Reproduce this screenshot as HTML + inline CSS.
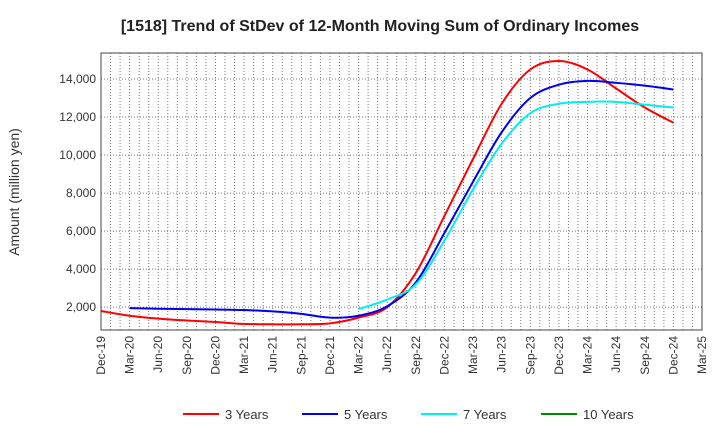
<!DOCTYPE html>
<html><head><meta charset="utf-8"><style>
body{margin:0;background:#fff;font-family:"Liberation Sans",sans-serif}
</style></head><body>
<svg id="chart" width="720" height="440" xmlns="http://www.w3.org/2000/svg" font-family="Liberation Sans, sans-serif">
<text x="380" y="31" text-anchor="middle" font-size="16" font-weight="bold" fill="#222">[1518]  Trend of StDev of 12-Month Moving Sum of Ordinary Incomes</text>
<text transform="translate(19,192) rotate(-90)" text-anchor="middle" font-size="14" fill="#333">Amount (million yen)</text>
<g id="grid"></g><g id="axes"></g><g id="series"></g>
<rect x="101" y="53" width="601" height="277" fill="none" stroke="#444" stroke-width="1"/>
<g id="legend"></g>
</svg>
<script>
const xLabels=["Dec-19","Mar-20","Jun-20","Sep-20","Dec-20","Mar-21","Jun-21","Sep-21","Dec-21","Mar-22","Jun-22","Sep-22","Dec-22","Mar-23","Jun-23","Sep-23","Dec-23","Mar-24","Jun-24","Sep-24","Dec-24","Mar-25"];
const yTicks=[2000,4000,6000,8000,10000,12000,14000];
const yTickLabels=["2,000","4,000","6,000","8,000","10,000","12,000","14,000"];
const seriesNames=["3 Years","5 Years","7 Years","10 Years"];
const seriesColors=["#ff0000","#0000ee","#00eeee","#008800"];
const s3=[1800,1550,1400,1300,1220,1120,1100,1100,1150,1450,2000,3800,6800,9800,12700,14500,14950,14500,13500,12500,11700];
const s5=[null,1950,1920,1900,1880,1850,1780,1650,1450,1550,2050,3300,5900,8600,11200,13000,13700,13900,13800,13650,13450];
const s7=[null,null,null,null,null,null,null,null,null,1900,2400,3200,5500,8200,10600,12200,12700,12800,12800,12650,12500];
const s10=[];
const L=101,R=702,T=53,B=330,yMin=800,yMax=15368;
const xs=i=>L+i*(R-L)/(xLabels.length-1);
const ys=v=>B-(v-yMin)/(yMax-yMin)*(B-T);
const NS="http://www.w3.org/2000/svg";
function mk(t,a,p){const e=document.createElementNS(NS,t);for(const k in a)e.setAttribute(k,a[k]);p.appendChild(e);return e;}
const grid=document.getElementById('grid'),axes=document.getElementById('axes'),ser=document.getElementById('series'),leg=document.getElementById('legend');
const step=(R-L)/(xLabels.length-1)/3;
for(let m=1;m<(xLabels.length-1)*3;m++){const x=L+m*step;
 const g=mk('line',{x1:x,x2:x,y1:T,y2:B,stroke:'#777','stroke-dasharray':'1,2','stroke-width':1},grid);
 }
yTicks.forEach((v,i)=>{const y=ys(v);
 const g=mk('line',{x1:L,x2:R,y1:y,y2:y,stroke:'#777','stroke-dasharray':'1,2','stroke-width':1},grid);
 
 const t=mk('text',{x:L-5,y:y+4,'text-anchor':'end','font-size':12,fill:'#333'},axes);t.textContent=yTickLabels[i];
 });
xLabels.forEach((lab,i)=>{const x=xs(i);
 const t=mk('text',{transform:`translate(${x+4},336) rotate(-90)`,'text-anchor':'end','font-size':12,fill:'#333'},axes);t.textContent=lab;
 });
function path(arr){const p=[];arr.forEach((v,i)=>{if(v!=null)p.push([xs(i),ys(v)]);});
 if(p.length<2)return '';let d=`M${p[0][0]},${p[0][1]}`;
 for(let i=0;i<p.length-1;i++){const p0=p[i-1]||p[i],p1=p[i],p2=p[i+1],p3=p[i+2]||p2;
  d+=` C${p1[0]+(p2[0]-p0[0])/6},${p1[1]+(p2[1]-p0[1])/6} ${p2[0]-(p3[0]-p1[0])/6},${p2[1]-(p3[1]-p1[1])/6} ${p2[0]},${p2[1]}`;}
 return d;}
[s3,s5,s7,s10].forEach((arr,k)=>{const d=path(arr);if(!d)return;
 const e=mk('path',{d,fill:'none',stroke:seriesColors[k],'stroke-width':2},ser);
 });
const lx=[183,302,421,541];
seriesNames.forEach((n,k)=>{
 const g=mk('g',{},leg);
 mk('line',{x1:lx[k],x2:lx[k]+36,y1:414,y2:414,stroke:seriesColors[k],'stroke-width':2},g);
 const t=mk('text',{x:lx[k]+42,y:419,'font-size':13,fill:'#333'},g);t.textContent=n;});
</script>
</body></html>
